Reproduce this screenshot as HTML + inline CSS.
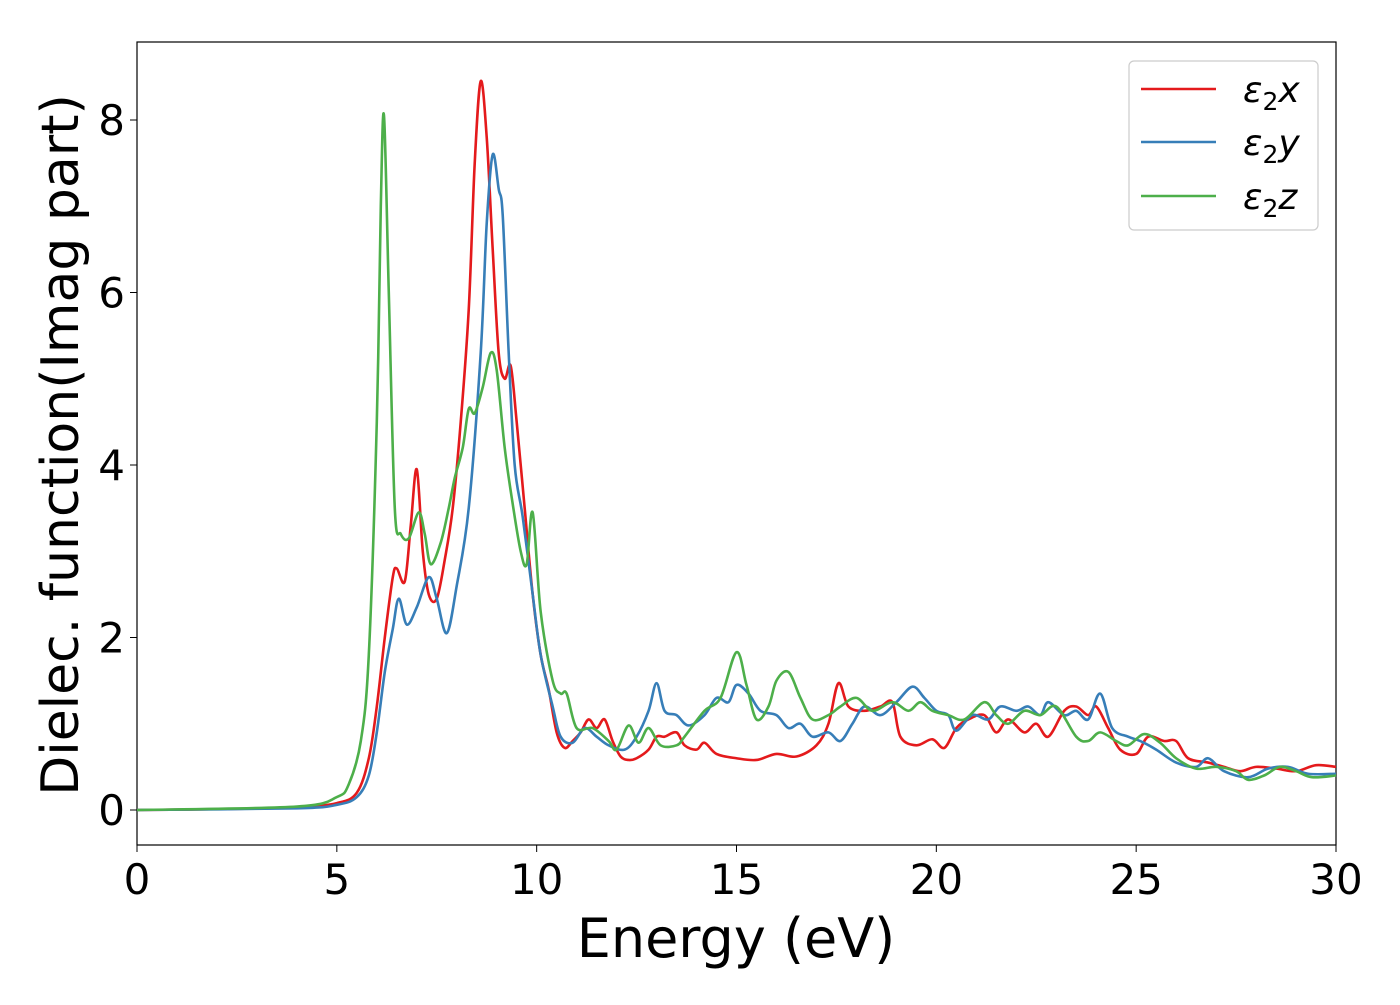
<!DOCTYPE html>
<html><head><meta charset="utf-8"><style>
body{margin:0;background:#fff;}
svg text{font-family:"DejaVu Sans","Liberation Sans",sans-serif;fill:#000;}
</style></head><body>
<svg id="chart" width="1400" height="1000">
<rect x="137" y="42" width="1199" height="803" fill="#fff" stroke="#000" stroke-width="1.2"/>
<g id="ticks"></g>
<g id="series"></g>
<text x="736" y="957" font-size="54" text-anchor="middle">Energy (eV)</text>
<text transform="translate(78,445) rotate(-90)" font-size="52" text-anchor="middle">Dielec. function(Imag part)</text>
<g>
<rect x="1129" y="61" width="189" height="169" rx="5" fill="#fff" stroke="#ccc" stroke-width="1.2"/>
<line x1="1141" y1="89" x2="1216" y2="89" stroke="#e41a1c" stroke-width="2.5"/>
<text x="1243" y="102" font-size="36" font-style="italic">ε<tspan font-style="normal" font-size="25" dy="8">2</tspan><tspan dy="-8">x</tspan></text>
<line x1="1141" y1="142" x2="1216" y2="142" stroke="#377eb8" stroke-width="2.5"/>
<text x="1243" y="155" font-size="36" font-style="italic">ε<tspan font-style="normal" font-size="25" dy="8">2</tspan><tspan dy="-8">y</tspan></text>
<line x1="1141" y1="196" x2="1216" y2="196" stroke="#4daf4a" stroke-width="2.5"/>
<text x="1243" y="209" font-size="36" font-style="italic">ε<tspan font-style="normal" font-size="25" dy="8">2</tspan><tspan dy="-8">z</tspan></text>
</g>
</svg>
<script>
const xTicks=[0,5,10,15,20,25,30];
const yTicks=[0,2,4,6,8];
const xE=[0,2,4,5,5.5,5.8,6.0,6.2,6.4,6.5,6.7,6.85,7.0,7.15,7.3,7.5,7.7,7.9,8.1,8.3,8.45,8.6,8.75,8.9,9.05,9.2,9.35,9.5,9.7,9.9,10.1,10.3,10.5,10.7,10.9,11.1,11.3,11.5,11.7,11.9,12.1,12.3,12.5,12.8,13.0,13.2,13.5,13.7,14.0,14.2,14.5,15.0,15.5,16.0,16.5,17.0,17.3,17.55,17.8,18.2,18.6,18.9,19.1,19.5,19.9,20.2,20.5,20.8,21.2,21.5,21.8,22.2,22.5,22.8,23.2,23.5,23.8,24.0,24.3,24.6,25.0,25.3,25.7,26.0,26.3,26.8,27.2,27.6,28.0,28.5,29.0,29.5,30.0];
const xV=[0,0.01,0.03,0.08,0.2,0.6,1.2,2.0,2.7,2.8,2.65,3.3,3.95,3.0,2.5,2.45,2.9,3.5,4.5,5.8,7.5,8.45,7.8,6.5,5.3,5.0,5.15,4.5,3.5,2.5,1.8,1.4,0.9,0.72,0.8,0.9,1.05,0.95,1.05,0.8,0.62,0.58,0.6,0.7,0.85,0.85,0.9,0.75,0.7,0.78,0.65,0.6,0.58,0.65,0.62,0.75,1.0,1.47,1.2,1.15,1.2,1.25,0.85,0.75,0.82,0.72,0.95,1.05,1.1,0.9,1.05,0.9,1.0,0.85,1.15,1.2,1.1,1.2,0.95,0.7,0.65,0.85,0.8,0.8,0.6,0.55,0.5,0.45,0.5,0.48,0.45,0.52,0.5];
const yE=[0,4,5,5.5,5.8,6.0,6.2,6.4,6.55,6.75,7.0,7.3,7.5,7.75,8.0,8.3,8.6,8.75,8.9,9.05,9.15,9.3,9.45,9.65,9.9,10.1,10.4,10.6,10.9,11.2,11.5,11.8,12.2,12.5,12.8,13.0,13.2,13.5,13.8,14.2,14.5,14.8,15.0,15.3,15.6,16.0,16.3,16.6,16.9,17.3,17.6,17.9,18.2,18.6,19.0,19.4,19.7,20.0,20.3,20.5,20.9,21.3,21.6,22.0,22.3,22.6,22.8,23.2,23.5,23.8,24.1,24.4,24.8,25.1,25.5,26.0,26.5,26.8,27.2,27.8,28.3,28.8,29.3,30];
const yV=[0,0.02,0.06,0.15,0.4,0.9,1.6,2.1,2.45,2.15,2.35,2.7,2.45,2.05,2.6,3.5,5.3,6.8,7.6,7.2,6.9,5.3,4.0,3.4,2.5,1.8,1.2,0.85,0.78,0.95,0.85,0.75,0.7,0.85,1.15,1.47,1.15,1.1,0.98,1.1,1.3,1.25,1.45,1.35,1.15,1.1,0.95,1.0,0.85,0.9,0.8,1.0,1.2,1.1,1.25,1.43,1.3,1.15,1.1,0.92,1.1,1.05,1.2,1.15,1.2,1.1,1.25,1.1,1.15,1.05,1.35,0.95,0.85,0.8,0.7,0.55,0.5,0.6,0.45,0.38,0.48,0.5,0.42,0.42];
const zE=[0,4,5,5.3,5.6,5.8,6.0,6.1,6.18,6.3,6.45,6.6,6.8,7.05,7.2,7.35,7.6,7.8,7.95,8.15,8.3,8.45,8.65,8.85,9.0,9.2,9.4,9.6,9.75,9.9,10.1,10.4,10.6,10.75,11.0,11.4,11.8,12.0,12.3,12.55,12.8,13.1,13.5,13.7,14.2,14.6,15.0,15.25,15.5,15.8,16.0,16.3,16.6,16.9,17.3,17.6,18.0,18.4,18.9,19.3,19.6,19.9,20.3,20.7,21.2,21.5,21.8,22.2,22.6,23.0,23.5,23.8,24.1,24.5,24.8,25.2,25.6,26.0,26.5,27.0,27.5,27.8,28.2,28.6,29.0,29.4,30];
const zV=[0,0.04,0.15,0.3,0.8,1.8,4.5,7.0,8.05,6.0,3.5,3.2,3.15,3.45,3.2,2.85,3.1,3.5,3.85,4.2,4.65,4.6,4.9,5.3,5.1,4.2,3.55,3.0,2.85,3.45,2.3,1.5,1.35,1.35,0.95,0.95,0.8,0.7,0.98,0.78,0.95,0.75,0.75,0.85,1.15,1.3,1.83,1.45,1.05,1.2,1.5,1.6,1.3,1.05,1.1,1.2,1.3,1.15,1.25,1.15,1.25,1.15,1.1,1.05,1.25,1.1,1.0,1.15,1.1,1.2,0.85,0.8,0.9,0.8,0.75,0.88,0.78,0.6,0.48,0.5,0.45,0.35,0.4,0.5,0.45,0.38,0.4];
const X0=137,X1=1336,Y0=810,YS=86.25;
function sx(v){return X0+(X1-X0)*v/30;}
function sy(v){return Y0-YS*v;}
const NS="http://www.w3.org/2000/svg";
const tg=document.getElementById('ticks');
xTicks.forEach(t=>{
 const l=document.createElementNS(NS,'line');
 
 
 l.setAttribute('x1',sx(t));l.setAttribute('x2',sx(t));l.setAttribute('y1',845);l.setAttribute('y2',852);l.setAttribute('stroke','#000');
 tg.appendChild(l);
 const tx=document.createElementNS(NS,'text');
 
 
 tx.setAttribute('x',sx(t));tx.setAttribute('y',894);tx.setAttribute('font-size','42');tx.setAttribute('text-anchor','middle');
 tx.textContent=t;tg.appendChild(tx);
});
yTicks.forEach(t=>{
 const l=document.createElementNS(NS,'line');
 
 
 l.setAttribute('x1',130);l.setAttribute('x2',137);l.setAttribute('y1',sy(t));l.setAttribute('y2',sy(t));l.setAttribute('stroke','#000');
 tg.appendChild(l);
 const tx=document.createElementNS(NS,'text');
 
 
 tx.setAttribute('x',125);tx.setAttribute('y',sy(t)+15);tx.setAttribute('font-size','42');tx.setAttribute('text-anchor','end');
 tx.textContent=t;tg.appendChild(tx);
});
const sg=document.getElementById('series');
function draw(E,V,c,name){
 const p=E.map((e,i)=>[sx(e),sy(V[i])]);
 let d='M'+p[0][0]+','+p[0][1];
 for(let i=0;i<p.length-1;i++){
  const a=p[Math.max(0,i-1)],b=p[i],c2=p[i+1],n=p[Math.min(p.length-1,i+2)];
  const c1x=b[0]+(c2[0]-a[0])/6,c1y=b[1]+(c2[1]-a[1])/6;
  const c2x=c2[0]-(n[0]-b[0])/6,c2y=c2[1]-(n[1]-b[1])/6;
  d+=' C'+c1x+','+c1y+' '+c2x+','+c2y+' '+c2[0]+','+c2[1];
 }
 const el=document.createElementNS(NS,'path');
 
 
 el.setAttribute('d',d);el.setAttribute('fill','none');el.setAttribute('stroke',c);el.setAttribute('stroke-width','2.6');
 sg.appendChild(el);
}
draw(xE,xV,'#e41a1c','series-eps2-x');
draw(yE,yV,'#377eb8','series-eps2-y');
draw(zE,zV,'#4daf4a','series-eps2-z');
</script>
</body></html>
